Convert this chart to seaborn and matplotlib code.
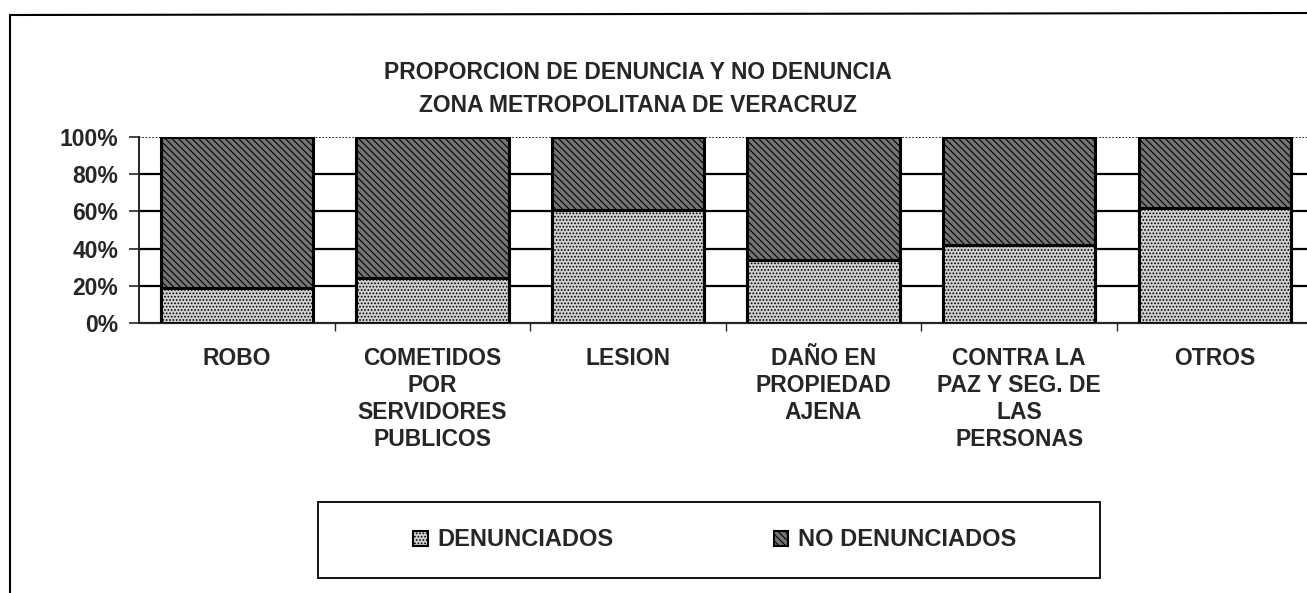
import matplotlib
matplotlib.use("Agg")
import matplotlib.pyplot as plt
import seaborn as sns
import pandas as pd
from matplotlib.patches import Patch, Rectangle
from matplotlib.lines import Line2D

categories = ["ROBO", "COMETIDOS\nPOR\nSERVIDORES\nPUBLICOS", "LESION",
              "DAÑO EN\nPROPIEDAD\nAJENA", "CONTRA LA\nPAZ Y SEG. DE\nLAS\nPERSONAS", "OTROS"]
denunciados = [19, 24, 61, 34, 42, 62]
no_denunciados = [81, 76, 39, 66, 58, 38]
y_ticks = [0, 20, 40, 60, 80, 100]
y_tick_labels = ["0%", "20%", "40%", "60%", "80%", "100%"]
title = "PROPORCION DE DENUNCIA Y NO DENUNCIA\nZONA METROPOLITANA DE VERACRUZ"
series_names = ["DENUNCIADOS", "NO DENUNCIADOS"]

sns.set_style("white")
plt.rcParams['font.family'] = ['Liberation Sans', 'DejaVu Sans']
plt.rcParams['hatch.linewidth'] = 0.8

df = pd.DataFrame({
    "cat": categories,
    "den": denunciados,
    "total": [a + b for a, b in zip(denunciados, no_denunciados)],
})

W, H = 1307, 593
fig = plt.figure(figsize=(W / 100, H / 100), dpi=100)
n = len(categories)
ax = fig.add_axes([139 / W, (H - 323) / H, n * 195.6 / W, 186 / H])

light = "#d0d0d0"
dark = "#747474"
light_hatch = "....."
dark_hatch = "\\\\\\\\\\"

sns.barplot(data=df, x="cat", y="total", color=dark, width=0.78, ax=ax,
            edgecolor="black", linewidth=2.2, saturation=1, zorder=3)
for p in ax.patches[:n]:
    p.set_hatch(dark_hatch)
sns.barplot(data=df, x="cat", y="den", color=light, width=0.78, ax=ax,
            edgecolor="black", linewidth=2.2, saturation=1, zorder=4)
for p in ax.patches[n:]:
    p.set_hatch(light_hatch)

ax.set_ylim(0, 100)
ax.set_xlim(-0.5, n - 0.5)
ax.set_yticks(y_ticks)
ax.set_yticklabels(y_tick_labels, fontsize=16.5, fontweight="bold")
ax.set_xticks(range(n))
ax.set_xticklabels(categories, fontsize=16.5, fontweight="bold", linespacing=1.23, va="top")
ax.tick_params(axis="x", length=0, pad=17)
ax.tick_params(axis="y", length=7, width=1.2, direction="out", pad=8, left=True)
for y in y_ticks[1:]:
    ax.axhline(y, color="black", lw=1.6 if y < 100 else 1.2,
               ls="-" if y < 100 else (0, (1, 1)), zorder=1)
ax.set_xticks([i + 0.5 for i in range(n - 1)], minor=True)
ax.tick_params(axis="x", which="minor", length=6, width=1, direction="out", bottom=True)
for s in ["top", "right"]:
    ax.spines[s].set_visible(False)
ax.spines["left"].set_linewidth(1.4)
ax.spines["bottom"].set_linewidth(1.6)
ax.set_xlabel("")
ax.set_ylabel("")

fig.text(638 / W, 1 - 89 / H, title, ha="center", va="center", fontsize=16.5,
         fontweight="bold", linespacing=1.55)

# outer chart frame
fig.add_artist(Line2D([10 / W, 1.0], [1 - 15 / H, 1 - 13 / H], color="black", lw=1.5))
fig.add_artist(Line2D([10 / W, 10 / W], [0, 1 - 15 / H], color="black", lw=1.5))

# legend frame
fig.add_artist(Rectangle((318 / W, (H - 578) / H), 782 / W, 76 / H, transform=fig.transFigure,
                         facecolor="none", edgecolor="black", lw=1.3))
handles = [Patch(facecolor=light, edgecolor="black", lw=1.5, hatch=light_hatch),
           Patch(facecolor=dark, edgecolor="black", lw=1.5, hatch=dark_hatch)]
leg = fig.legend(handles, series_names, loc="center left",
                 bbox_to_anchor=(413 / W, 1 - 540 / H),
                 ncol=2, frameon=False, prop={"size": 17, "weight": "bold"},
                 handlelength=0.62, handleheight=0.62, handletextpad=0.4,
                 columnspacing=6.8, borderpad=0, borderaxespad=0)

fig.savefig("out.png", dpi=100)
